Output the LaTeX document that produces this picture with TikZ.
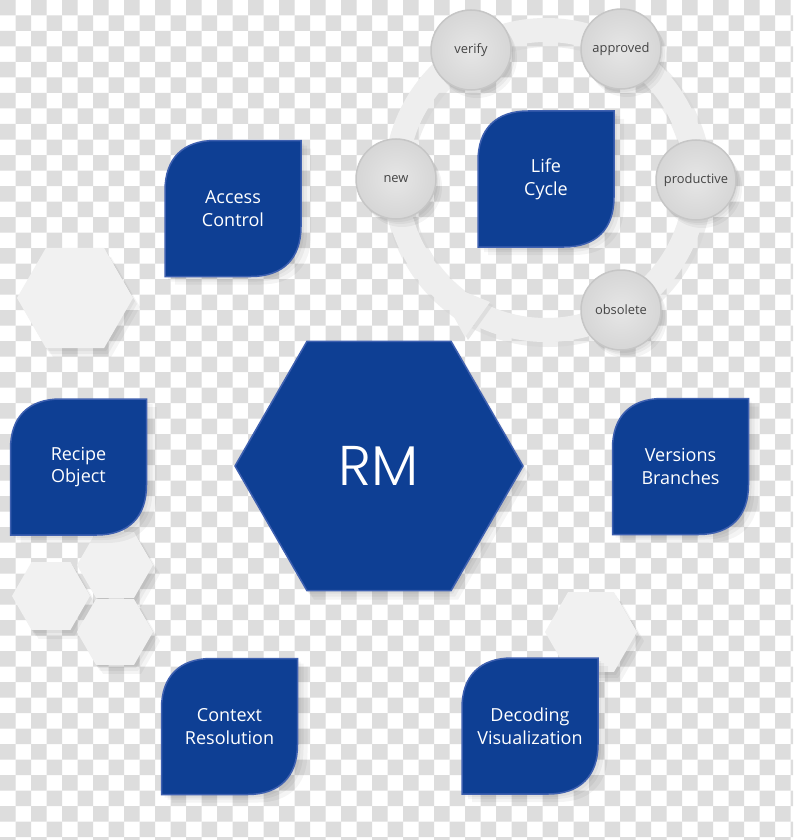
\documentclass[tikz,border=0pt]{standalone}
\usepackage{fontspec}
\setmainfont{Open Sans}
\newfontfamily\rmhexfont{Poppins Light}
\usetikzlibrary{calc}
\definecolor{checkgray}{HTML}{DDDDDD}
\definecolor{rmblue}{RGB}{14,63,148}
\definecolor{rmedge}{RGB}{62,96,176}
\definecolor{lightshape}{HTML}{F1F1F1}
\definecolor{ringgray}{HTML}{EEEEEE}
\definecolor{ringshade}{HTML}{D0D0D0}
\definecolor{circin}{HTML}{E6E6E6}
\definecolor{circout}{HTML}{D6D6D6}
\definecolor{circedge}{HTML}{C6C6C6}
\definecolor{labelgray}{HTML}{444444}
\tikzset{
  softshade/.style={fill=black, opacity=0.045},
  leafshape/.style={fill=rmblue, draw=rmedge, line width=1.5pt},
  leaftext/.style={text=white, align=center, inner sep=0pt, font=\fontsize{18}{22.7}\selectfont},
  lighthex/.style={fill=lightshape},
  rmhex/.style={fill=rmblue, draw=rmedge, line width=1.5pt},
  stagecirc/.style={circle, minimum size=80pt, inner sep=0pt, inner color=circin, outer color=circout,
    draw=circedge, line width=1.5pt, text=labelgray, font=\fontsize{12.9}{15}\selectfont},
  leafpic/.pic={
    \foreach \s in {(3,3),(6,5),(10,8)}{
      \path[softshade, shift={\s}] (-68,68) -- (-68,-18) .. controls (-68,-50) and (-50,-68) .. (-18,-68)
        -- (68,-68) -- (68,18) .. controls (68,50) and (50,68) .. (18,68) -- cycle;}
    \path[leafshape] (-68,68) -- (-68,-18) .. controls (-68,-50) and (-50,-68) .. (-18,-68)
      -- (68,-68) -- (68,18) .. controls (68,50) and (50,68) .. (18,68) -- cycle;
  }
}
\newcommand\hexpath[3]{(#1,#2) +(0:#3) -- +(60:#3) -- +(120:#3) -- +(180:#3) -- +(240:#3) -- +(300:#3) -- cycle}
\newcommand\hexshadow[3]{%
  \foreach \s in {(2,3),(4,6),(7,9)}{\path[softshade, shift={\s}] \hexpath{#1}{#2}{#3};}}
\newcommand\circshadow[1]{%
  \foreach \s in {(2,3),(4,5),(6,8)}{\path[softshade, shift={\s}] #1 circle (40);}}
\begin{document}
\begin{tikzpicture}[x=1pt,y=-1pt]
\useasboundingbox (0,0) rectangle (793,840);
% checkerboard background
\fill[white] (0,0) rectangle (793,840);
\begin{scope}
\clip (0,0) rectangle (793,840);
\fill[checkgray] \foreach \j in {0,2,...,54}{\foreach \i in {0,2,...,50}{(\i*15.5,\j*15.5) rectangle ++(15.5,15.5)}};
\fill[checkgray] \foreach \j in {1,3,...,53}{\foreach \i in {1,3,...,51}{(\i*15.5,\j*15.5) rectangle ++(15.5,15.5)}};
\end{scope}
% light decorative hexagons
\hexshadow{75}{298}{58}
\path[lighthex] \hexpath{75}{298}{58};
\hexshadow{115}{565}{38}
\path[lighthex] \hexpath{115}{565}{38};
\hexshadow{51}{596}{39}
\path[lighthex] \hexpath{51}{596}{39};
\hexshadow{115}{632}{38}
\path[lighthex] \hexpath{115}{632}{38};
\hexshadow{591}{632}{46}
\path[lighthex] \hexpath{591}{632}{46};
% life cycle ring
\coordinate (lc) at (546,180);
\draw[ringshade, opacity=0.35, line width=28pt] (548,183) circle (150);
\draw[ringgray, line width=24pt] (lc) circle (150);
\coordinate (tip) at (433,279);
\coordinate (barbin) at (490,302);
\coordinate (barbout) at (465,337);
\fill[ringshade, opacity=0.5] ($(tip)+(3,3)$) -- ($(barbin)+(3,3)$) -- ($(barbout)+(3,3)$) -- cycle;
\fill[ringgray] (tip) -- (barbin) -- (barbout) -- cycle;
% stage circles
\circshadow{(471,50)}
\node[stagecirc] (verify) at (471,50) {verify};
\circshadow{(621,49)}
\node[stagecirc] (approved) at (621,49) {approved};
\circshadow{(396,179)}
\node[stagecirc] (new) at (396,179) {new};
\circshadow{(696,180)}
\node[stagecirc] (productive) at (696,180) {productive};
\circshadow{(621,310)}
\node[stagecirc] (obsolete) at (621,310) {obsolete};
% leaves
\pic at (233,208.5) {leafpic};
\node[leaftext] (access) at (233,208.5) {Access\\Control};
\pic at (546,179) {leafpic};
\node[leaftext] (life) at (546,179) {Life\\Cycle};
\pic at (78.5,467) {leafpic};
\node[leaftext] (recipe) at (78.5,467) {Recipe\\Object};
\pic at (680.5,466.5) {leafpic};
\node[leaftext] (versions) at (680.5,466.5) {Versions\\Branches};
\pic at (229.5,726.5) {leafpic};
\node[leaftext] (context) at (229.5,726.5) {Context\\Resolution};
\pic at (530,726) {leafpic};
\node[leaftext] (decoding) at (530,726) {Decoding\\Visualization};
% central hexagon
\hexshadow{379}{466}{144}
\path[rmhex] \hexpath{379}{466}{144};
\node[text=white, inner sep=0pt, font=\rmhexfont\fontsize{56}{60}\selectfont] (rm) at (379,466) {RM};
\end{tikzpicture}
\end{document}
